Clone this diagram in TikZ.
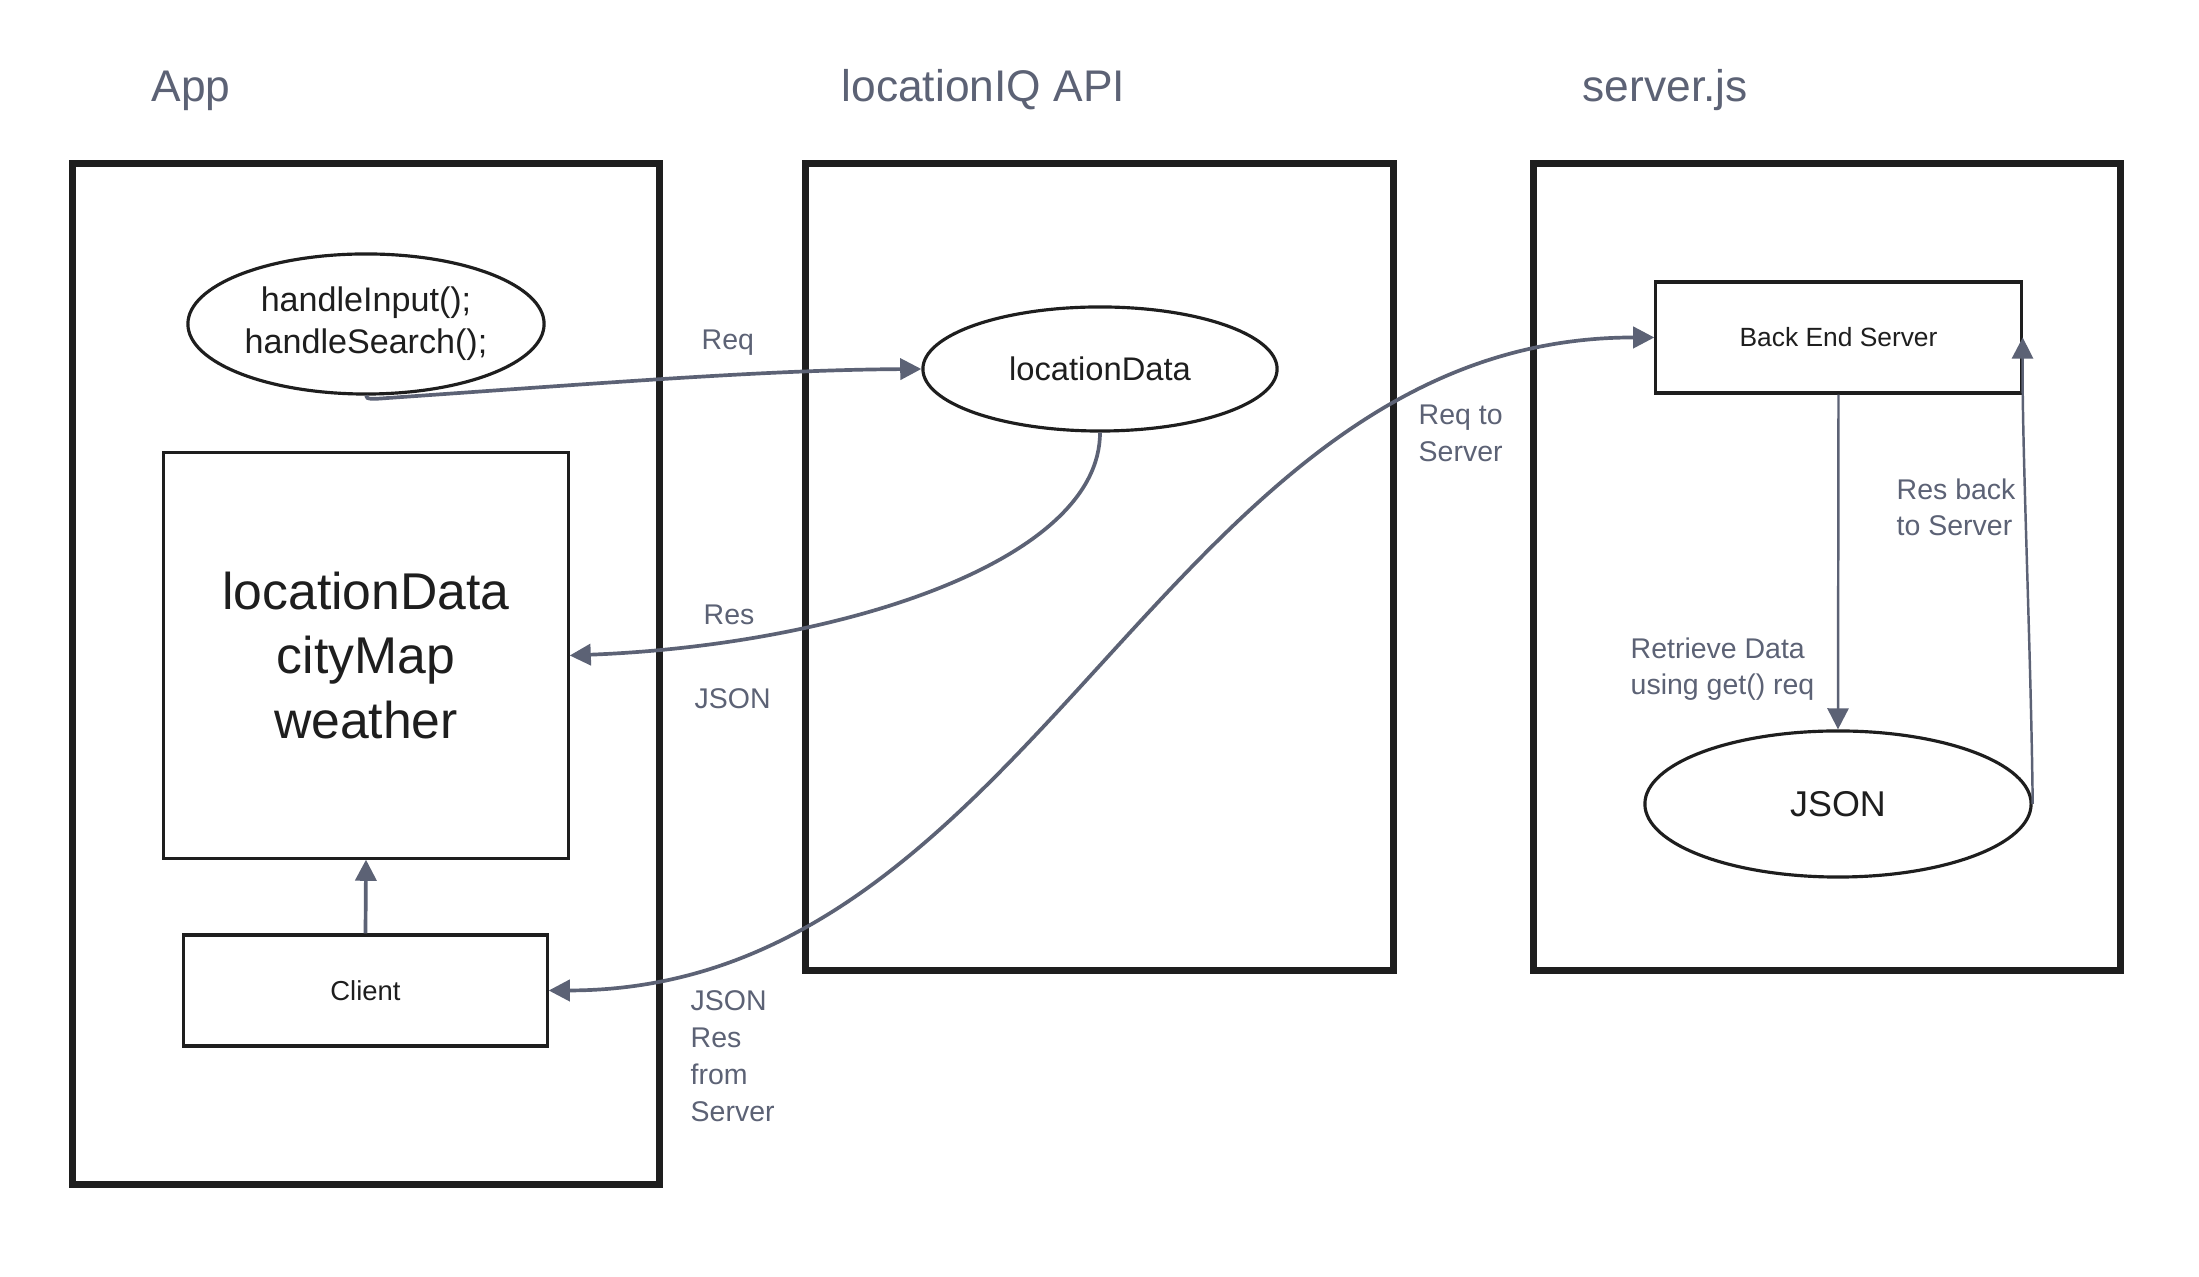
\documentclass[tikz,border=0pt]{standalone}
\usepackage{fontspec}
\setmainfont{Liberation Sans}
\usetikzlibrary{shapes.geometric,arrows.meta}
\definecolor{slate}{HTML}{5C6275}
\definecolor{ink}{HTML}{1E1E1E}
\begin{document}
\begin{tikzpicture}[x=0.01cm,y=-0.01cm,
  container/.style={draw=ink, line width=2pt, inner sep=0pt},
  shapebox/.style={draw=ink, line width=0.9pt, inner sep=0pt, text=ink, align=center},
  oval/.style={ellipse, draw=ink, line width=0.9pt, inner sep=0pt, text=ink, align=center},
  title/.style={text=slate, font=\fontsize{12.6}{15}\selectfont, anchor=base west, inner sep=0pt},
  lbl/.style={text=slate, font=\fontsize{8.1}{10.4}\selectfont, anchor=west, align=left, inner sep=0pt},
  conn/.style={draw=slate, line width=1.05pt, -{Triangle[length=6pt,width=6pt]}},
  thinconn/.style={draw=slate, line width=0.7pt, -{Triangle[length=6pt,width=6pt]}}
]
\useasboundingbox[fill=white] (0,0) rectangle (2199,1277);

% titles
\node[title] (tapp) at (151,102) {App};
\node[title] (tiq) at (841,102) {locationIQ API};
\node[title] (tsrv) at (1582,102) {server.js};

% containers
\node[container, minimum width=5.86cm, minimum height=10.20cm] (app) at (366,674) {};
\node[container, minimum width=5.87cm, minimum height=8.06cm] (iq) at (1099.5,567) {};
\node[container, minimum width=5.86cm, minimum height=8.06cm] (srv) at (1827,567) {};

% App contents
\node[oval, minimum width=3.56cm, minimum height=1.40cm, font=\fontsize{9.7}{12}\selectfont] (hs) at (366,324) {handleInput();\\handleSearch();};
\node[shapebox, minimum width=4.04cm, minimum height=4.05cm, font=\fontsize{14.7}{18.4}\selectfont] (state) at (366,655.5) {locationData\\cityMap\\weather};
\node[shapebox, minimum width=3.63cm, minimum height=1.11cm, font=\fontsize{7.8}{9}\selectfont] (client) at (365.5,990.5) {Client};

% locationIQ contents
\node[oval, minimum width=3.54cm, minimum height=1.24cm, font=\fontsize{9.3}{11}\selectfont] (ld) at (1100,369) {locationData};

% server contents
\node[shapebox, minimum width=3.65cm, minimum height=1.11cm, font=\fontsize{7.5}{9}\selectfont] (bes) at (1838.5,337.5) {Back End Server};
\node[oval, minimum width=3.86cm, minimum height=1.46cm, font=\fontsize{10.2}{12}\selectfont] (json) at (1838,804) {JSON};

% connectors
\coordinate (hook) at (388,398);
\draw[draw=slate, line width=1.05pt] (hs.south) .. controls (366,400) and (374,399) .. (hook);
\draw[conn] (hook) .. controls (631,381) and (771,370) .. (ld.west);
\draw[conn] (ld.south) .. controls (1100,561) and (841,645) .. (state.east);
\draw[conn] (client.north) -- (state.south);
\draw[draw=slate, line width=1.05pt, {Triangle[length=6pt,width=6pt]}-{Triangle[length=6pt,width=6pt]}]
  (client.east) .. controls (1038,990) and (1165,337) .. (bes.west);
\draw[thinconn] (bes.south) -- (json.north);
\draw[thinconn] (json.east) .. controls (2031,650) and (2022,450) .. (bes.east);

% labels
\node[lbl, text height=1.6ex, text depth=0.4ex] (lreq) at (701,338) {Req};
\node[lbl, text height=1.6ex, text depth=0.4ex] (lres) at (703,613) {Res};
\node[lbl, text height=1.6ex, text depth=0.4ex] (ljson) at (694,697) {JSON};
\node[lbl] (lreqsrv) at (1418,433.5) {Req to\\Server};
\node[lbl] (lresback) at (1896,507.5) {Res back\\to Server};
\node[lbl] (lretr) at (1630,669) {Retrieve Data\\using get() req};
\node[lbl, font=\fontsize{8.1}{10.5}\selectfont] (ljres) at (690,1056.5) {JSON\\Res\\from\\Server};
\end{tikzpicture}
\end{document}
